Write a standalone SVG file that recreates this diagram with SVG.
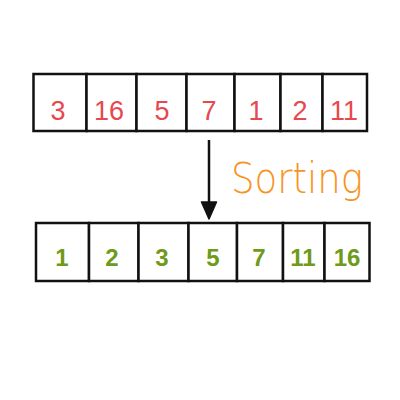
<svg xmlns="http://www.w3.org/2000/svg" width="400" height="400" viewBox="0 0 400 400">
<defs>
<style>
.cell{fill:#fff;stroke:#111;stroke-width:2.5}
.red{fill:#e8474e;font-family:"Liberation Sans",sans-serif;font-size:27px;text-anchor:middle}
.grn{fill:#6f9a1a;font-family:"Liberation Sans",sans-serif;font-size:24px;text-anchor:middle;font-weight:bold}
.lbl{fill:#f7931e;font-family:"DejaVu Sans",sans-serif;font-size:42px;font-weight:300}
</style>
</defs>
<g id="top-array">
<rect class="cell" x="33.5" y="74" width="53" height="57"/>
<rect class="cell" x="86.5" y="74" width="50" height="57"/>
<rect class="cell" x="136.5" y="74" width="50" height="57"/>
<rect class="cell" x="186.5" y="74" width="48" height="57"/>
<rect class="cell" x="234.5" y="74" width="46" height="57"/>
<rect class="cell" x="280.5" y="74" width="42" height="57"/>
<rect class="cell" x="322.5" y="74" width="44.5" height="57"/>
<text class="red" x="58" y="120">3</text>
<text class="red" x="109" y="120">16</text>
<text class="red" x="162" y="120">5</text>
<text class="red" x="209" y="120">7</text>
<text class="red" x="256" y="120">1</text>
<text class="red" x="300" y="120">2</text>
<text class="red" x="344" y="120">11</text>
</g>
<g id="bottom-array">
<rect class="cell" x="36" y="223" width="53" height="58"/>
<rect class="cell" x="89" y="223" width="49.5" height="58"/>
<rect class="cell" x="138.5" y="223" width="50" height="58"/>
<rect class="cell" x="188.5" y="223" width="48.5" height="58"/>
<rect class="cell" x="237" y="223" width="46" height="58"/>
<rect class="cell" x="283" y="223" width="41.5" height="58"/>
<rect class="cell" x="324.5" y="223" width="45" height="58"/>
<text class="grn" x="62" y="266">1</text>
<text class="grn" x="112" y="266">2</text>
<text class="grn" x="162" y="266">3</text>
<text class="grn" x="213" y="266">5</text>
<text class="grn" x="259" y="266">7</text>
<text class="grn" x="303" y="266">11</text>
<text class="grn" x="347" y="266">16</text>
</g>
<g id="connectors">
<line x1="209" y1="140" x2="209" y2="205" stroke="#111" stroke-width="2.5"/>
<path d="M201.5,202 L216.5,202 L209,219 Z" fill="#111" stroke="#111" stroke-width="1.5" stroke-linejoin="round"/>
</g>
<g id="label">
<text class="lbl" x="231" y="193" textLength="132" lengthAdjust="spacingAndGlyphs">Sorting</text>
</g>
</svg>
